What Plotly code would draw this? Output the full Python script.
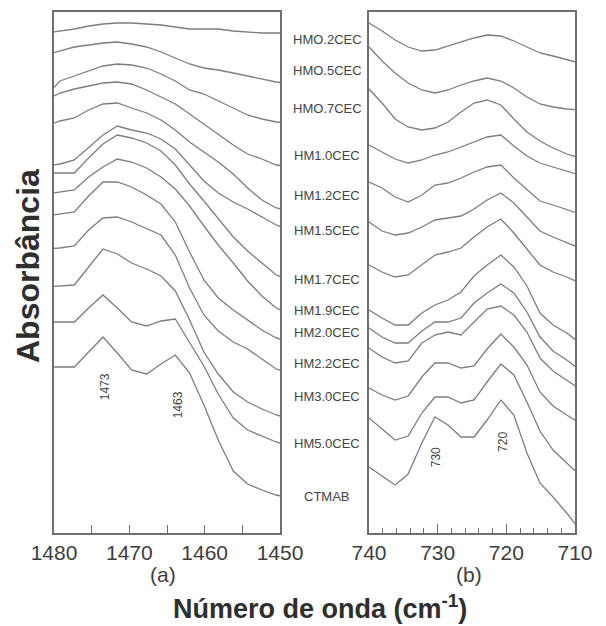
import plotly.graph_objects as go

# ---------------- data ----------------
# wavenumber sampling (cm-1), ~1.93 cm-1 step
LEFT_X = [1481.1, 1479.2, 1477.3, 1475.4, 1473.5, 1471.6, 1469.7, 1467.7, 1465.8,
          1463.9, 1462.0, 1460.1, 1458.2, 1456.2, 1454.3, 1452.4, 1450.5, 1448.5]
RIGHT_X = [741.9, 740.0, 738.1, 736.2, 734.3, 732.3, 730.4, 728.5, 726.6,
           724.7, 722.8, 720.8, 718.9, 717.0, 715.1, 713.2, 711.2, 709.3]

SAMPLES = ["HMO.2CEC", "HMO.5CEC", "HMO.7CEC", "HM1.0CEC", "HM1.2CEC", "HM1.5CEC",
           "HM1.7CEC", "HM1.9CEC", "HM2.0CEC", "HM2.2CEC", "HM3.0CEC", "HM5.0CEC", "CTMAB"]

# offset absorbance (a.u.) - region (a) 1480-1450 cm-1
L_HM02 = [500, 502, 504, 507, 509, 510, 510, 509, 508, 506, 504, 504, 504, 502, 501, 500, 500, 500]
L_HM05 = [478, 482, 486, 488, 490, 491, 489, 486, 481, 475, 469, 465, 463, 460, 457, 454, 451, 449]
L_HM07 = [437, 452, 457, 462, 467, 469, 468, 465, 459, 452, 443, 439, 432, 425, 418, 414, 411, 410]
L_HM10 = [433, 440, 444, 447, 450, 451, 449, 443, 436, 429, 419, 409, 399, 388, 379, 374, 368, 366]
L_HM12 = [407, 412, 415, 423, 429, 430, 425, 420, 413, 403, 391, 381, 371, 359, 345, 333, 325, 322]
L_HM15 = [367, 369, 373, 386, 398, 407, 403, 400, 394, 384, 368, 352, 340, 331, 324, 316, 308, 303]
L_HM17 = [360, 360, 360, 375, 389, 398, 395, 390, 382, 368, 349, 332, 314, 296, 282, 270, 258, 252]
L_HM19 = [339, 341, 343, 356, 366, 374, 371, 365, 356, 344, 327, 307, 288, 270, 252, 237, 225, 218]
L_HM20 = [317, 319, 321, 337, 351, 351, 346, 338, 329, 311, 281, 253, 235, 223, 213, 203, 195, 191]
L_HM22 = [284, 285, 287, 303, 315, 316, 311, 304, 298, 278, 245, 218, 202, 191, 184, 174, 164, 159]
L_HM30 = [246, 247, 248, 266, 284, 279, 270, 264, 257, 242, 213, 181, 159, 141, 131, 124, 118, 114]
L_HM50 = [211, 211, 211, 225, 238, 225, 211, 207, 212, 214, 191, 167, 139, 115, 103, 97, 91, 87]
L_CTMAB = [166, 166, 166, 181, 196, 180, 163, 159, 169, 178, 160, 128, 93, 62, 49, 43, 38, 35]

# offset absorbance (a.u.) - region (b) 740-710 cm-1
R_HM02 = [517, 510, 502, 493, 486, 482, 483, 487, 491, 495, 498, 497, 492, 486, 480, 477, 473, 470]
R_HM05 = [495, 486, 472, 460, 450, 443, 440, 443, 448, 452, 455, 452, 445, 436, 429, 426, 424, 423]
R_HM07 = [456, 444, 430, 414, 406, 403, 405, 411, 421, 430, 433, 428, 414, 401, 392, 385, 379, 375]
R_HM10 = [393, 388, 381, 374, 370, 373, 378, 381, 386, 391, 396, 398, 387, 377, 370, 366, 362, 358]
R_HM12 = [356, 351, 345, 336, 331, 338, 348, 350, 355, 361, 366, 368, 355, 343, 332, 328, 323, 319]
R_HM15 = [318, 311, 302, 298, 300, 306, 313, 315, 317, 324, 333, 340, 330, 316, 302, 296, 290, 285]
R_HM17 = [274, 268, 261, 256, 258, 268, 278, 281, 285, 296, 306, 314, 300, 284, 268, 261, 256, 250]
R_HM19 = [230, 223, 215, 208, 208, 220, 228, 233, 241, 257, 268, 278, 266, 247, 220, 208, 200, 190]
R_HM20 = [211, 205, 196, 190, 190, 202, 211, 211, 215, 230, 240, 249, 240, 221, 196, 182, 173, 163]
R_HM22 = [191, 185, 176, 170, 172, 190, 198, 201, 198, 211, 224, 227, 218, 201, 175, 162, 153, 144]
R_HM30 = [151, 145, 138, 133, 137, 156, 170, 170, 165, 167, 184, 199, 186, 168, 141, 127, 118, 110]
R_HM50 = [125, 115, 104, 93, 97, 120, 136, 136, 130, 133, 151, 169, 158, 131, 102, 83, 70, 58]
R_CTMAB = [76, 66, 57, 48, 59, 90, 116, 108, 96, 96, 113, 133, 118, 80, 50, 36, 20, 3]

LEFT_SERIES = [L_HM02, L_HM05, L_HM07, L_HM10, L_HM12, L_HM15, L_HM17,
               L_HM19, L_HM20, L_HM22, L_HM30, L_HM50, L_CTMAB]
RIGHT_SERIES = [R_HM02, R_HM05, R_HM07, R_HM10, R_HM12, R_HM15, R_HM17,
                R_HM19, R_HM20, R_HM22, R_HM30, R_HM50, R_CTMAB]

# band labels (wavenumber, offset absorbance)
LEFT_BANDS = [("1473", 1473.2, 146), ("1463", 1463.5, 128)]
RIGHT_BANDS = [("730", 730.2, 76), ("720", 720.5, 91)]

# ---------------- layout helpers ----------------
W, H = 606, 626
LABEL_Y = [494, 463, 425, 378, 338, 303, 254, 223, 201, 170, 137, 90, 37]
LINE_C = "#7d7d7d"
FRAME_C = "#6f6f6f"
TXT_C = "#3d3d3d"
FONT = "Liberation Sans, Arial, sans-serif"

fig = go.Figure()
for name, ys in zip(SAMPLES, LEFT_SERIES):
    fig.add_trace(go.Scatter(x=LEFT_X, y=ys, mode="lines", name=name,
                             line=dict(color=LINE_C, width=1.3), xaxis="x", yaxis="y"))
for name, ys in zip(SAMPLES, RIGHT_SERIES):
    fig.add_trace(go.Scatter(x=RIGHT_X, y=ys, mode="lines", name=name,
                             line=dict(color=LINE_C, width=1.3), xaxis="x2", yaxis="y2"))

ydom = [1 - 533 / H, 1 - 12 / H]
common_x = dict(showline=True, mirror=True, linecolor=FRAME_C, linewidth=2,
                ticks="inside", tickcolor=FRAME_C, tickwidth=1.2,
                showgrid=False, zeroline=False, automargin=False,
                tickfont=dict(size=21, color=TXT_C, family=FONT))
common_y = dict(showline=True, mirror=True, linecolor=FRAME_C, linewidth=2,
                showticklabels=False, ticks="", showgrid=False, zeroline=False,
                automargin=False, range=[0, 521], domain=ydom)

fig.update_layout(
    width=W, height=H, margin=dict(l=0, r=0, t=0, b=0, pad=0, autoexpand=False),
    paper_bgcolor="white", plot_bgcolor="white", showlegend=False,
    xaxis=dict(domain=[54 / W, 280 / W], anchor="y", range=[1480, 1450],
               tickmode="array", tickvals=[1480, 1470, 1460, 1450], ticklen=8,
               minor=dict(ticks="inside", ticklen=8, tickcolor=FRAME_C, tickwidth=1.2,
                          tickmode="linear", tick0=1450, dtick=5),
               **common_x),
    xaxis2=dict(domain=[369 / W, 575 / W], anchor="y2", range=[740, 710],
                tickmode="array", tickvals=[740, 730, 720, 710], ticklen=9,
                minor=dict(ticks="inside", ticklen=5, tickcolor=FRAME_C, tickwidth=1.2,
                           tickmode="linear", tick0=710, dtick=2),
                **common_x),
    yaxis=dict(anchor="x", **common_y),
    yaxis2=dict(anchor="x2", **common_y),
)

ann = []
for name, ly in zip(SAMPLES, LABEL_Y):
    ann.append(dict(text=name, xref="paper", yref="y", x=327 / W, y=ly,
                    showarrow=False, font=dict(size=13, color="#444", family=FONT)))
for t, bx, by in LEFT_BANDS:
    ann.append(dict(text=t, xref="x", yref="y", x=bx, y=by, textangle=-90,
                    showarrow=False, font=dict(size=12, color="#444", family=FONT)))
for t, bx, by in RIGHT_BANDS:
    ann.append(dict(text=t, xref="x2", yref="y2", x=bx, y=by, textangle=-90,
                    showarrow=False, font=dict(size=12, color="#444", family=FONT)))
ann.append(dict(text="(a)", xref="x", yref="paper", x=1465.5, y=1 - 574 / H,
                yanchor="middle", showarrow=False,
                font=dict(size=21, color=TXT_C, family=FONT)))
ann.append(dict(text="(b)", xref="x2", yref="paper", x=725.5, y=1 - 574 / H,
                yanchor="middle", showarrow=False,
                font=dict(size=21, color=TXT_C, family=FONT)))
ann.append(dict(text="<b>Número de onda (cm<sup>-1</sup>)</b>", xref="paper", yref="paper",
                x=320 / W, y=0, yanchor="bottom", showarrow=False,
                font=dict(size=27, color="#2e2e2e", family=FONT)))
ann.append(dict(text="<b>Absorbância</b>", xref="paper", yref="paper",
                x=8 / W, y=1 - 266 / H, textangle=-90, showarrow=False,
                font=dict(size=32, color="#2e2e2e", family=FONT)))
fig.update_layout(annotations=ann)

fig.write_html("out.html")
